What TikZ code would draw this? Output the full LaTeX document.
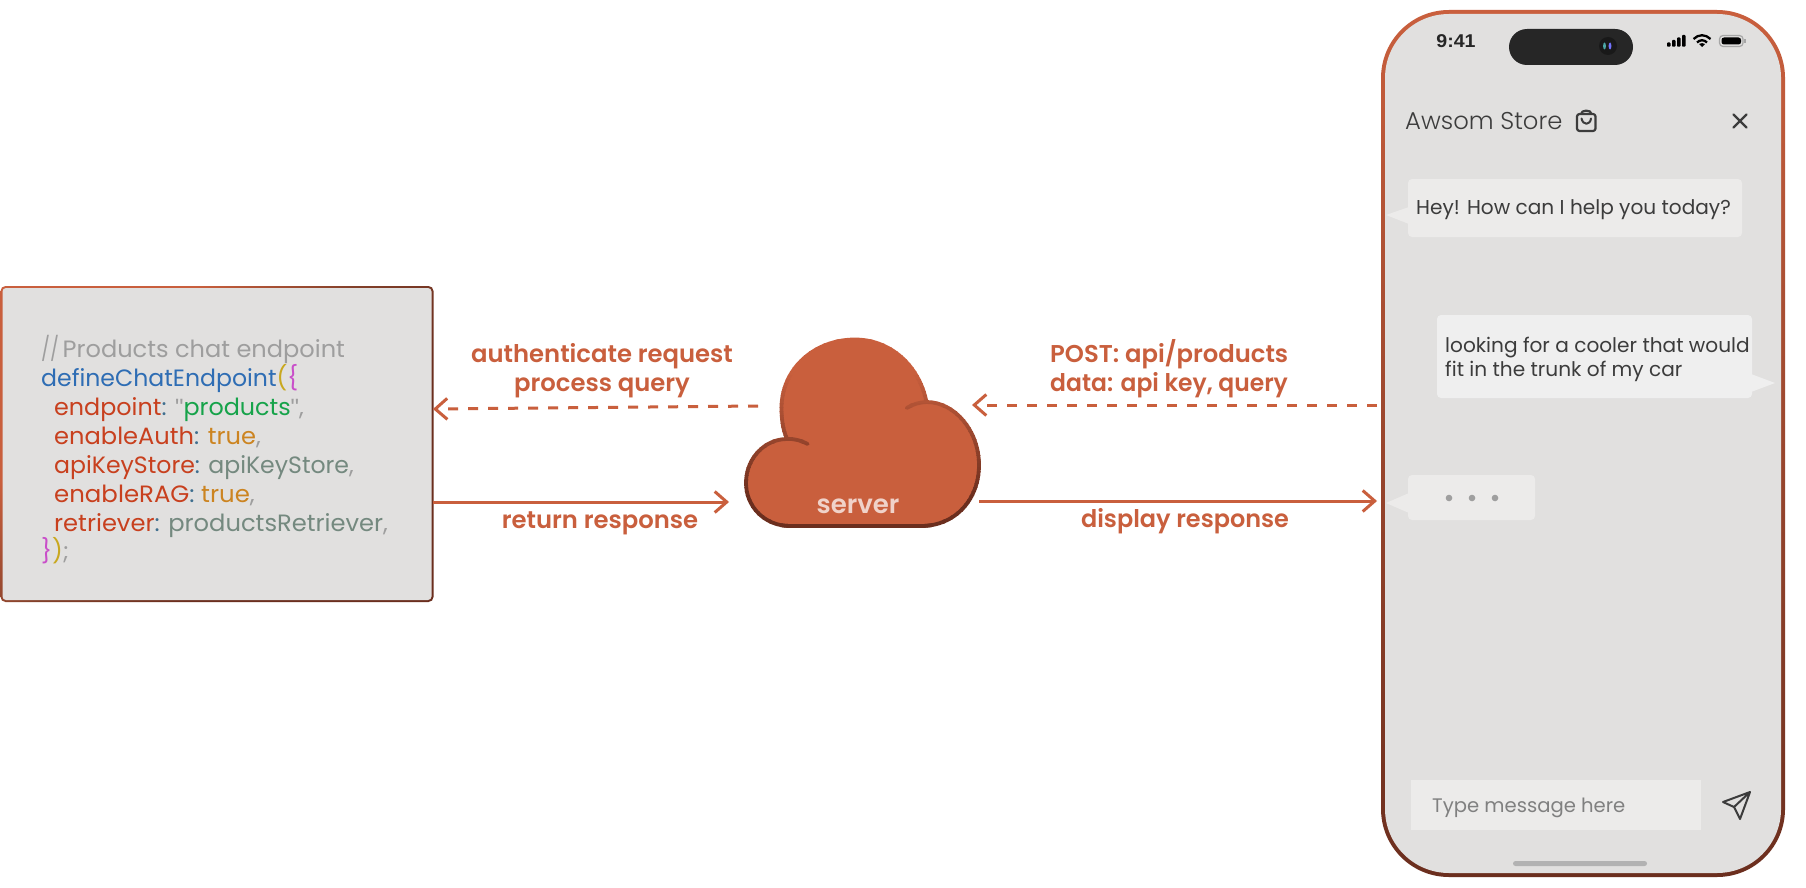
\documentclass[tikz,border=0pt]{standalone}
\usepackage{graphicx}
\usepackage{fontspec}
\setmainfont{Poppins}
\newfontfamily\semib{Poppins SemiBold}
\newfontfamily\lightf{Poppins Light}
\newfontfamily\statusf{Liberation Sans}[BoldFont={Liberation Sans Bold}]
\usetikzlibrary{arrows.meta,shapes.misc,calc}
\definecolor{rust}{HTML}{C95F3D}
\definecolor{rustdark}{HTML}{6B2E1E}
\definecolor{rustmid}{HTML}{82402A}
\definecolor{panel}{HTML}{E1E0DF}
\definecolor{bubble}{HTML}{ECEBEA}
\definecolor{bubbleb}{HTML}{EFEFEF}
\definecolor{ink}{HTML}{3C3C3C}
\definecolor{cgray}{HTML}{9E9E9E}
\definecolor{cblue}{HTML}{2E6DB4}
\definecolor{cyel}{HTML}{C9A81E}
\definecolor{cmag}{HTML}{C94FC9}
\definecolor{cred}{HTML}{C8401E}
\definecolor{cgreen}{HTML}{16A34A}
\definecolor{corange}{HTML}{CC8420}
\definecolor{cslate}{HTML}{74897F}
\definecolor{ccolon}{HTML}{3F6F8F}
\pgfdeclarehorizontalshading{codeedge}{100bp}{color(0bp)=(rust); color(33bp)=(rust); color(48bp)=(rustmid); color(62bp)=(rustdark); color(100bp)=(rustdark)}
\newcommand{\sq}{{\statusf"}}
\tikzset{
  x=1pt,y=-1pt,
  flowline/.style={line width=3pt,draw=rust,-{Straight Barb[length=12pt,width=21pt,line width=3pt]}},
  dashline/.style={flowline,dash pattern=on 10pt off 10pt},
  flowlabel/.style={font=\semib\fontsize{24.3}{24}\selectfont,text=rust,inner sep=0pt,anchor=base},
  flowlabelw/.style={flowlabel,anchor=base west},
  codeline/.style={font=\fontsize{23.6}{24}\selectfont,inner sep=0pt,anchor=base west},
  chat/.style={font=\fontsize{20.1}{20}\selectfont,text=ink,inner sep=0pt,anchor=base west},
  iconline/.style={draw=ink,line width=2.2pt,line cap=round,line join=round},
}
\newcommand{\cloudfillpath}{(790,526) .. controls (765,526) and (746,507) .. (746,483) .. controls (746,458) and (765,439) .. (787,439) .. controls (783,430) and (781.5,420) .. (781.5,408) .. controls (781.5,369) and (814,339.5) .. (855,339.5) .. controls (890,339.5) and (919,365) .. (926.5,402) .. controls (955,402) and (979,431) .. (979,465) .. controls (979,500) and (955,526) .. (921,526) -- cycle}
\newcommand{\cloudarcs}{(787,439) .. controls (795,438.5) and (802,441) .. (807.7,444) (906.7,408) .. controls (913,404) and (920,402.3) .. (926.5,402)}
\begin{document}
\begin{tikzpicture}
\useasboundingbox (0,0) rectangle (1806,888);
\fill[white] (0,0) rectangle (1806,888);

% code panel
\node[rectangle,rounded corners=5pt,minimum width=433pt,minimum height=316pt,inner sep=0pt,shading=codeedge,shading angle=-45] (codebox) at (217,444) {};
\fill[panel,rounded corners=3.5pt] (2.5,288) rectangle (431.5,600);
\node[codeline] (c0) at (41,357) {\scalebox{0.8}[1]{\textcolor{cgray}{//}}};
\node[codeline] (c1) at (62.5,357) {\scalebox{1.02}[1]{\textcolor{cgray}{Products chat endpoint}}};
\node[codeline] (c2) at (41,386) {\textcolor{cblue}{defineChatEndpoint}\textcolor{cyel}{(}\textcolor{cmag}{\{}};
\node[codeline] (c3) at (54,415) {\scalebox{1.01}[1]{\textcolor{cred}{endpoint}\textcolor{ccolon}{:} \textcolor{cgray}{\sq}\textcolor{cgreen}{products}\textcolor{cgray}{\sq,}}};
\node[codeline] (c4) at (54,444) {\scalebox{1.023}[1]{\textcolor{cred}{enableAuth}\textcolor{ccolon}{:} \textcolor{corange}{true}\textcolor{cgray}{,}}};
\node[codeline] (c5) at (54,473) {\textcolor{cred}{apiKeyStore}\textcolor{ccolon}{:} \textcolor{cslate}{apiKeyStore}\textcolor{cgray}{,}};
\node[codeline] (c6) at (54,502) {\scalebox{1.035}[1]{\textcolor{cred}{enableRAG}\textcolor{ccolon}{:} \textcolor{corange}{true}\textcolor{cgray}{,}}};
\node[codeline] (c7) at (54,531) {\scalebox{1.025}[1]{\textcolor{cred}{retriever}\textcolor{ccolon}{:} \textcolor{cslate}{productsRetriever}\textcolor{cgray}{,}}};
\node[codeline] (c8) at (41,559) {\textcolor{cmag}{\}}\textcolor{cyel}{)}\textcolor{cgray}{;}};

% cloud
\fill[rust] \cloudfillpath;
\foreach \i in {0,...,48}{
  \pgfmathsetmacro\yy{335+4*\i}
  \pgfmathsetmacro\yz{\yy+4.2}
  \pgfmathsetmacro\tt{min(100,max(0,(\yy-370)/1.25))}
  \begin{scope}
    \clip (730,\yy) rectangle (995,\yz);
    \draw[draw=rustdark!\tt!rust,line width=3.8pt,line cap=round,line join=round] \cloudfillpath \cloudarcs;
  \end{scope}
}
\node[minimum width=234pt,minimum height=190pt,inner sep=0pt] (cloud) at (862,432) {};
\node[font=\semib\fontsize{26}{26}\selectfont,text=white!72!rust,inner sep=0pt,anchor=base] (serverlabel) at (858,513) {server};

% phone
\node[rectangle,rounded corners=68pt,minimum width=404pt,minimum height=867pt,inner sep=0pt,top color=rust,bottom color=rustdark] (phone) at (1583,443.5) {};
\fill[panel,rounded corners=64pt] (1385,14) rectangle (1781,873);

% status bar
\node[font=\statusf\bfseries\fontsize{18.5}{19}\selectfont,text=black!85,inner sep=0pt,anchor=base] (clock) at (1456,48) {\scalebox{1.06}[1]{9:41}};
\fill[black!85,rounded corners=18pt] (1509,29) rectangle (1633,65);
\fill[black!90] (1608,46) circle[radius=9pt];
\fill[teal!70!white] (1604.5,46) ellipse[x radius=1.4pt,y radius=3.5pt];
\fill[blue!55!white] (1610,46) ellipse[x radius=1.4pt,y radius=3.5pt];
\fill[black,rounded corners=0.8pt] (1667,42.5) rectangle (1670.5,46.7);
\fill[black,rounded corners=0.8pt] (1672,40) rectangle (1675.5,46.7);
\fill[black,rounded corners=0.8pt] (1677,37.5) rectangle (1680.5,46.7);
\fill[black,rounded corners=0.8pt] (1682,35) rectangle (1685.5,46.7);
\draw[black,line width=2.3pt] (1693.5,39) .. controls (1698.5,34) and (1705.5,34) .. (1710.5,39);
\draw[black,line width=2.3pt] (1697,42.5) .. controls (1700,39.5) and (1704,39.5) .. (1707,42.5);
\fill[black] (1702,47) -- (1699,44) .. controls (1701,42.8) and (1703,42.8) .. (1705,44) -- cycle;
\draw[gray!70,line width=1.2pt,rounded corners=3.5pt] (1719.5,35.5) rectangle (1743,46.5);
\fill[black,rounded corners=2.5pt] (1721.5,37.5) rectangle (1741,44.5);
\fill[gray!70] (1744,39) rectangle (1745.5,43);

% header
\node[font=\lightf\fontsize{24.3}{24}\selectfont,text=ink,inner sep=0pt,anchor=base west] (title) at (1405,130) {Awsom Store};
\draw[iconline,rounded corners=2.5pt] (1577,114) rectangle (1595.5,131);
\draw[iconline] (1581,114) .. controls (1581,109.5) and (1591.5,109.5) .. (1591.5,114);
\draw[iconline,line width=2pt] (1581.5,118.5) .. controls (1583,125.5) and (1590,125.5) .. (1591,118.5);
\draw[iconline] (1733.5,114.5) -- (1746.5,127.5) (1746.5,114.5) -- (1733.5,127.5);

% bubbles
\fill[bubble,rounded corners=4pt] (1408,179) rectangle (1742,237);
\fill[bubble] (1409,207) -- (1386,215) -- (1409,224) -- cycle;
\node[chat] (msg1) at (1416,214) {Hey! How can I help you today?};

\fill[bubbleb,rounded corners=4pt] (1437,315) rectangle (1752,398);
\fill[bubbleb] (1751,374) -- (1775,383) -- (1751,392) -- cycle;
\node[chat] (msg2) at (1445,352) {looking for a cooler that would};
\node[chat] (msg3) at (1445,376) {fit in the trunk of my car};

\fill[bubble,rounded corners=4pt] (1408,475) rectangle (1535,520);
\fill[bubble] (1409,493) -- (1386,503) -- (1409,513) -- cycle;
\foreach \dotx in {1449,1472,1495}{\fill[gray!75!white] (\dotx,498) circle[radius=3.3pt];}

% input row
\fill[bubble] (1411,780) rectangle (1701,830);
\node[font=\fontsize{19.6}{20}\selectfont,text=gray,inner sep=0pt,anchor=base west] (placeholder) at (1432,812) {Type message here};
\draw[iconline,line width=2pt] (1750,792) -- (1723,802) -- (1734,807) -- (1750,792) -- (1740,819) -- (1734,807);
\fill[black!30,rounded corners=2.5pt] (1513,861) rectangle (1647,866);

% connector ports
\coordinate (cloudOutL) at (758,406);
\coordinate (codeIn) at (433,409);
\coordinate (codeOut) at (433,502);
\coordinate (cloudInL) at (729,502);
\coordinate (phoneOut) at (1377,405);
\coordinate (cloudInR) at (972,405);
\coordinate (cloudOutR) at (979,501);
\coordinate (phoneIn) at (1377,501);
\draw[dashline] (cloudOutL) -- (codeIn);
\draw[flowline] (codeOut) -- (cloudInL);
\draw[dashline] (phoneOut) -- (cloudInR);
\draw[flowline] (cloudOutR) -- (phoneIn);

% labels
\node[flowlabel] (l1) at (602,362) {authenticate request};
\node[flowlabel] (l2) at (602,391) {process query};
\node[flowlabel] (l3) at (600,528) {return response};
\node[flowlabelw] (l4) at (1050,362) {POST: api/products};
\node[flowlabelw] (l5) at (1050,391) {\scalebox{0.965}[1]{data: api key, query}};
\node[flowlabel] (l6) at (1185,527.5) {\scalebox{0.985}[1]{display response}};
\end{tikzpicture}
\end{document}
